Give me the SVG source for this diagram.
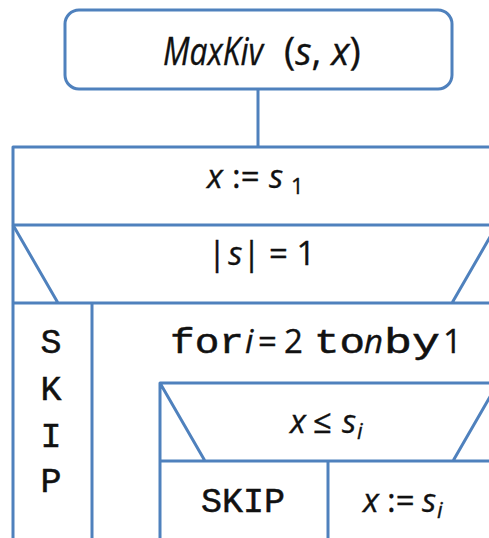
<svg xmlns="http://www.w3.org/2000/svg" width="489" height="538" viewBox="0 0 489 538">
  <style>
    .box { fill: none; stroke: #4F81BD; stroke-width: 3; stroke-linejoin: round; }
    .wire { fill: none; stroke: #4F81BD; stroke-width: 3; }
    .sans { font-family: "Open Sans", "Liberation Sans", sans-serif; fill: #111; stroke: #111; stroke-width: 0.35; font-size: 33px; }
    .it { font-style: italic; }
    .sub { font-size: 22px; }
    .mono { font-family: "Liberation Mono", "Courier New", monospace; fill: #111; stroke: #111; stroke-width: 0.5; font-size: 35px; }
  </style>
  <rect width="489" height="538" fill="#ffffff"/>

  <!-- procedure header -->
  <g id="header">
    <rect class="box" x="65" y="10" width="387" height="79" rx="14"/>
    <text class="sans" y="65" style="font-size:38px"><tspan class="it" x="163" textLength="100" lengthAdjust="spacingAndGlyphs">MaxKiv</tspan><tspan x="284">(</tspan><tspan class="it">s</tspan>, <tspan class="it">x</tspan>)</text>
  </g>

  <!-- header to body -->
  <g id="connectors">
    <line class="wire" x1="258" y1="89" x2="258" y2="147"/>
  </g>

  <!-- x := s1 -->
  <g id="init">
    <path class="box" d="M500,147 H13 V540 M13,225 H500"/>
    <text class="sans" y="188"><tspan class="it" x="207">x</tspan><tspan x="232">:=</tspan><tspan class="it" x="269">s</tspan><tspan class="sub" x="291" y="194">1</tspan></text>
  </g>

  <!-- |s| = 1 -->
  <g id="if-single">
    <path class="box" d="M13,225 L58,303 M497,225 L452,303 M13,303 H500"/>
    <text class="sans" x="208" y="265">|<tspan class="it" dx="2">s</tspan>| = 1</text>
  </g>

  <!-- SKIP branch, letters stacked -->
  <g id="skip-outer">
    <line class="box" x1="92" y1="303" x2="92" y2="540"/>
    <text class="mono" x="51" y="353" text-anchor="middle">S</text>
    <text class="mono" x="51" y="400" text-anchor="middle">K</text>
    <text class="mono" x="51" y="447" text-anchor="middle">I</text>
    <text class="mono" x="51" y="492" text-anchor="middle">P</text>
  </g>

  <!-- for loop -->
  <g id="loop">
    <text class="sans" y="353"><tspan class="mono" x="170" textLength="74" lengthAdjust="spacingAndGlyphs">for</tspan><tspan class="it" x="245">i</tspan><tspan x="258">=</tspan><tspan x="284">2</tspan><tspan class="mono" x="314" textLength="51" lengthAdjust="spacingAndGlyphs">to</tspan><tspan class="it" x="364">n</tspan><tspan class="mono" x="384" textLength="56" lengthAdjust="spacingAndGlyphs">by</tspan><tspan x="443">1</tspan></text>
  </g>

  <!-- x <= s_i -->
  <g id="if-less">
    <path class="box" d="M500,383 H160 V540 M160,383 L205,461 M498,383 L453,461 M160,461 H500"/>
    <text class="sans" y="433"><tspan class="it" x="290">x</tspan><tspan x="313">≤</tspan><tspan class="it" x="342">s</tspan><tspan class="it sub" x="357" y="439">i</tspan></text>
  </g>

  <!-- then: SKIP -->
  <g id="skip-inner">
    <line class="box" x1="328" y1="461" x2="328" y2="540"/>
    <text class="mono" x="201" y="512" textLength="84" lengthAdjust="spacingAndGlyphs">SKIP</text>
  </g>

  <!-- else: x := s_i -->
  <g id="assign">
    <text class="sans" y="512"><tspan class="it" x="363">x</tspan><tspan x="387">:=</tspan><tspan class="it" x="422">s</tspan><tspan class="it sub" x="437" y="518">i</tspan></text>
  </g>
</svg>
